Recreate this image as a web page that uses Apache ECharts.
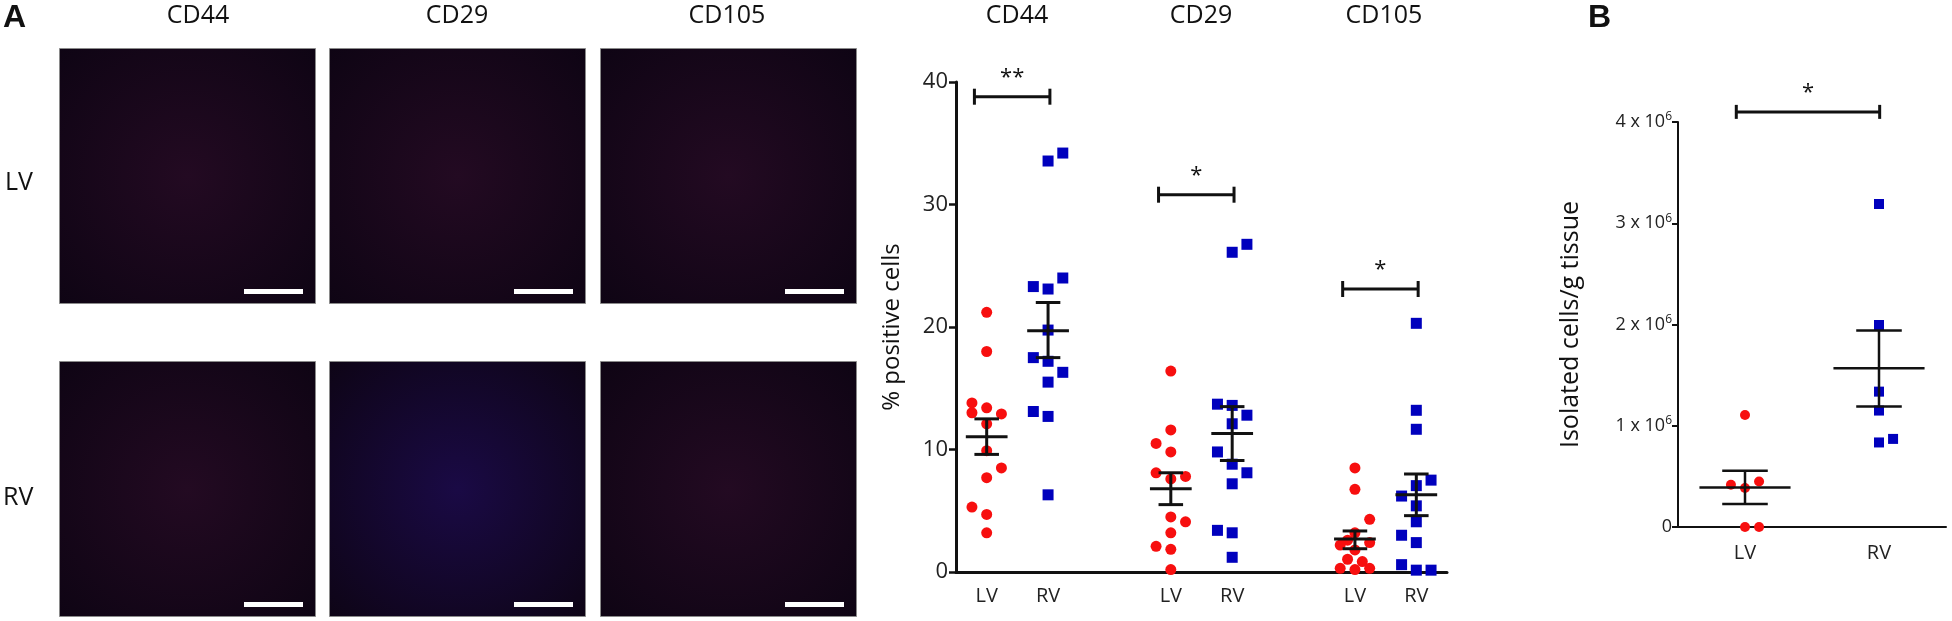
<!DOCTYPE html>
<html>
<head>
<meta charset="utf-8">
<script src="https://cdn.jsdelivr.net/npm/echarts@6/dist/echarts.min.js"></script>
<style>
html,body{margin:0;padding:0;background:#fff;}
#chart{width:1952px;height:621px;}
</style>
</head>
<body>
<div id="chart"></div>
<script>
// 数据
// 每个点: [横向偏移槽位, 数值]
var markers = ['CD44', 'CD29', 'CD105'];
var groupsA = ['LV', 'RV', '', 'LV', 'RV', '', 'LV', 'RV'];

var cd44LV = [[0,21.2],[0,18.0],[-1,13.8],[0,13.4],[-1,13.0],[1,12.9],[0,12.1],[0,9.9],[1,8.5],[0,7.7],[-1,5.3],[0,4.7],[0,3.2]];
var cd44RV = [[0,33.55],[1,34.2],[-1,23.3],[0,23.1],[1,24.0],[0,19.75],[-1,17.5],[0,17.2],[1,16.3],[0,15.5],[-1,13.1],[0,12.7],[0,6.3]];
var cd29LV = [[0,16.4],[0,11.6],[-1,10.5],[0,9.8],[-1,8.1],[1,7.8],[0,7.6],[0,4.5],[1,4.1],[0,3.2],[-1,2.1],[0,1.85],[0,0.2]];
var cd29RV = [[0,26.1],[1,26.75],[-1,13.7],[0,13.6],[1,12.8],[0,12.1],[-1,9.8],[0,8.8],[1,8.1],[0,7.2],[-1,3.4],[0,3.2],[0,1.2]];
var cd105LV = [[0,8.5],[0,6.75],[1,4.3],[0,3.2],[-0.5,2.6],[1,2.4],[-1,2.2],[0,1.8],[-0.5,1.04],[0.5,0.85],[-1,0.3],[0,0.2],[1,0.3]];
var cd105RV = [[0,20.3],[0,13.2],[0,11.65],[1,7.5],[0,7.05],[-1,6.2],[0,5.4],[0,4.1],[-1,3.0],[0,2.4],[-1,0.6],[0,0.15],[1,0.15]];

// 均值 ± SEM (CD44 LV, CD44 RV, CD29 LV, CD29 RV, CD105 LV, CD105 RV)
var meanA = [11.05, 19.7, 6.8, 11.3, 2.7, 6.3];
var semLowA = [9.6, 17.5, 5.5, 9.1, 1.9, 4.6];
var semHighA = [12.5, 22.0, 8.1, 13.5, 3.35, 8.0];
var sigA = ['**', '*', '*'];
var sigYA = [38.8, 30.8, 23.1];
var yTicksA = [0, 10, 20, 30, 40];

// B: 细胞数 (x 10^6 / g)
var groupsB = ['LV', 'RV'];
var cellsLV = [[0,1.107],[-1,0.417],[0,0.385],[1,0.45],[0,0],[1,0]];
var cellsRV = [[0,3.19],[0,1.995],[0,1.337],[0,1.15],[0,0.835],[1,0.87]];
var meanB = [0.39, 1.568];
var semLowB = [0.227, 1.19];
var semHighB = [0.555, 1.94];
var sigB = ['*'];
var sigYB = [4.1];
var yTicksB = [0, 1, 2, 3, 4];

var RED = '#f70f0f', BLUE = '#0000bd', INK = '#111';
var FONT = '"Open Sans", "Noto Sans", sans-serif';

// 散点: 类别位置 + 槽位偏移
function place(arr, pos, step, scale) {
    return arr.map(function (p) { return [pos + p[0] * step, p[1] * (scale || 1)]; });
}

function meanSem(mean, lo, hi, positions, scale) {
    return mean.map(function (m, i) { return [positions[i], m * scale, lo[i] * scale, hi[i] * scale]; });
}

function semRenderer(meanHalf, capHalf, lw) {
    return function (params, api) {
        var x = api.value(0);
        var pm = api.coord([x, api.value(1)]);
        var plo = api.coord([x, api.value(2)]);
        var phi = api.coord([x, api.value(3)]);
        var h = api.size([meanHalf, 0])[0];
        var c = api.size([capHalf, 0])[0];
        var st = { stroke: INK, lineWidth: lw };
        return {
            type: 'group',
            children: [
                { type: 'line', shape: { x1: pm[0] - h, y1: pm[1], x2: pm[0] + h, y2: pm[1] }, style: st },
                { type: 'line', shape: { x1: plo[0], y1: plo[1], x2: phi[0], y2: phi[1] }, style: st },
                { type: 'line', shape: { x1: plo[0] - c, y1: plo[1], x2: plo[0] + c, y2: plo[1] }, style: st },
                { type: 'line', shape: { x1: phi[0] - c, y1: phi[1], x2: phi[0] + c, y2: phi[1] }, style: st }
            ]
        };
    };
}

function bracketRenderer(labels, capLen, lw) {
    return function (params, api) {
        var y = api.value(2);
        var p1 = api.coord([api.value(0), y]);
        var p2 = api.coord([api.value(1), y]);
        var st = { stroke: INK, lineWidth: lw };
        return {
            type: 'group',
            children: [
                { type: 'line', shape: { x1: p1[0], y1: p1[1], x2: p2[0], y2: p2[1] }, style: st },
                { type: 'line', shape: { x1: p1[0], y1: p1[1] - capLen, x2: p1[0], y2: p1[1] + capLen }, style: st },
                { type: 'line', shape: { x1: p2[0], y1: p2[1] - capLen, x2: p2[0], y2: p2[1] + capLen }, style: st },
                {
                    type: 'text',
                    style: {
                        text: labels[params.dataIndex], x: (p1[0] + p2[0]) / 2, y: p1[1] - 8,
                        fill: INK, font: '22px ' + FONT, textAlign: 'center', textVerticalAlign: 'bottom'
                    }
                }
            ]
        };
    };
}

// 免疫荧光图片位置 (用暗色块代替)
var imgCols = [59, 329, 600];
var imgRows = [48, 361];
var imgW = 256, imgH = 255;
var imgGraphics = [];
imgRows.forEach(function (top, r) {
    imgCols.forEach(function (left, c) {
        imgGraphics.push({
            type: 'rect', left: left, top: top,
            shape: { width: imgW, height: imgH },
            style: {
                fill: new echarts.graphic.RadialGradient(0.5, 0.5, 0.75, [
                    { offset: 0, color: r === 1 && c === 1 ? '#1a0a45' : '#230a22' },
                    { offset: 1, color: '#0d0413' }
                ]),
                stroke: '#8a8a8a', lineWidth: 1
            }
        });
        imgGraphics.push({
            type: 'rect', left: left + imgW - 71, top: top + imgH - 14,
            shape: { width: 59, height: 5 }, style: { fill: '#fff' }
        });
    });
});

var textGraphics = [
    { type: 'text', left: 3, top: 2, style: { text: 'A', font: 'bold 32px "Liberation Sans", Arial, sans-serif', fill: INK } },
    { type: 'text', left: 1588, top: 2, style: { text: 'B', font: 'bold 32px "Liberation Sans", Arial, sans-serif', fill: INK } },
    { type: 'text', left: 5, top: 170, style: { text: 'LV', font: '25px ' + FONT, fill: INK } },
    { type: 'text', left: 3, top: 485, style: { text: 'RV', font: '25px ' + FONT, fill: INK } }
];
var titleXImg = [198, 457, 727];
var titleXPlot = [1017, 1201, 1384];
markers.forEach(function (m, i) {
    textGraphics.push({ type: 'text', x: titleXImg[i], y: 3, style: { text: m, font: '25px ' + FONT, fill: INK, textAlign: 'center' } });
    textGraphics.push({ type: 'text', x: titleXPlot[i], y: 3, style: { text: m, font: '25px ' + FONT, fill: INK, textAlign: 'center' } });
});

var posA = [0, 1, 3, 4, 6, 7];
var stepA = 0.24;
var stepB = 0.105;
var E6 = 1e6;

var axisLineA = { show: true, onZero: false, lineStyle: { color: INK, width: 3 } };
var axisLineB = { show: true, onZero: false, lineStyle: { color: INK, width: 2 } };

function dots(xi, yi, sym, size, color, data) {
    return { type: 'scatter', xAxisIndex: xi, yAxisIndex: yi, symbol: sym, symbolSize: size, itemStyle: { color: color, opacity: 1 }, data: data };
}

var option = {
    backgroundColor: '#fff',
    animation: false,
    graphic: imgGraphics.concat(textGraphics),
    grid: [
        { left: 956, top: 82, width: 491, height: 490 },
        { left: 1678, top: 122, width: 268, height: 405 }
    ],
    xAxis: [
        {
            type: 'category', gridIndex: 0, data: groupsA, boundaryGap: true,
            axisLine: axisLineA,
            axisTick: { alignWithLabel: true, interval: 0, length: 8, lineStyle: { color: INK, width: 2.5 } },
            axisLabel: { interval: 0, margin: 14, color: '#222', fontSize: 20, fontFamily: FONT }
        },
        { type: 'value', gridIndex: 0, min: -0.5, max: 7.5, show: false },
        {
            type: 'category', gridIndex: 1, data: groupsB, boundaryGap: true,
            axisLine: axisLineB,
            axisTick: { alignWithLabel: true, interval: 0, length: 7, lineStyle: { color: INK, width: 2 } },
            axisLabel: { interval: 0, margin: 16, color: '#222', fontSize: 20, fontFamily: FONT }
        },
        { type: 'value', gridIndex: 1, min: -0.5, max: 1.5, show: false }
    ],
    yAxis: [
        {
            type: 'value', gridIndex: 0, min: yTicksA[0], max: yTicksA[yTicksA.length - 1], interval: 10,
            name: '% positive cells', nameLocation: 'middle', nameGap: 52, nameRotate: 90,
            nameTextStyle: { fontSize: 24, color: '#111', fontFamily: FONT },
            axisLine: axisLineA,
            axisTick: { show: true, length: 7, lineStyle: { color: INK, width: 2.5 } },
            splitLine: { show: false },
            axisLabel: { margin: 8, color: '#222', fontSize: 22, fontFamily: FONT }
        },
        {
            type: 'value', gridIndex: 1, min: yTicksB[0] * E6, max: yTicksB[yTicksB.length - 1] * E6, interval: E6,
            name: 'Isolated cells/g tissue', nameLocation: 'middle', nameGap: 95, nameRotate: 90,
            nameTextStyle: { fontSize: 25, color: '#111', fontFamily: FONT },
            axisLine: axisLineB,
            axisTick: { show: true, length: 6, lineStyle: { color: INK, width: 2 } },
            splitLine: { show: false },
            axisLabel: {
                margin: 6, color: '#222', fontFamily: FONT,
                formatter: function (v) {
                    if (v === 0) return '{n|0}';
                    return '{n|' + (v / E6) + ' x 10}{s|6}';
                },
                rich: {
                    n: { fontSize: 18, fontFamily: FONT, color: '#222' },
                    s: { fontSize: 12, fontFamily: FONT, color: '#222', verticalAlign: 'top', padding: [0, 0, 10, 0] }
                }
            }
        }
    ],
    series: [
        // A: 散点
        dots(1, 0, 'circle', 11, RED, place(cd44LV, 0, stepA)),
        dots(1, 0, 'rect', 11, BLUE, place(cd44RV, 1, stepA)),
        dots(1, 0, 'circle', 11, RED, place(cd29LV, 3, stepA)),
        dots(1, 0, 'rect', 11, BLUE, place(cd29RV, 4, stepA)),
        dots(1, 0, 'circle', 11, RED, place(cd105LV, 6, stepA)),
        dots(1, 0, 'rect', 11, BLUE, place(cd105RV, 7, stepA)),
        // A: 均值 ± SEM
        {
            type: 'custom', xAxisIndex: 1, yAxisIndex: 0, z: 5,
            renderItem: semRenderer(0.34, 0.2, 3),
            encode: { x: 0, y: [1, 2, 3] },
            data: meanSem(meanA, semLowA, semHighA, posA, 1)
        },
        // A: 显著性标记
        {
            type: 'custom', xAxisIndex: 1, yAxisIndex: 0, z: 5,
            renderItem: bracketRenderer(sigA, 8, 3),
            encode: { x: [0, 1], y: 2 },
            data: sigYA.map(function (y, i) { return [posA[i * 2] - 0.2, posA[i * 2 + 1] + 0.03, y]; })
        },
        // B: 散点
        dots(3, 1, 'circle', 10, RED, place(cellsLV, 0, stepB, E6)),
        dots(3, 1, 'rect', 10, BLUE, place(cellsRV, 1, stepB, E6)),
        {
            type: 'custom', xAxisIndex: 3, yAxisIndex: 1, z: 5,
            renderItem: semRenderer(0.34, 0.17, 2.5),
            encode: { x: 0, y: [1, 2, 3] },
            data: meanSem(meanB, semLowB, semHighB, [0, 1], E6)
        },
        {
            type: 'custom', xAxisIndex: 3, yAxisIndex: 1, z: 5,
            renderItem: bracketRenderer(sigB, 7, 3),
            encode: { x: [0, 1], y: 2 },
            data: sigYB.map(function (y) { return [-0.065, 1.005, y * E6]; })
        }
    ]
};

var myChart = echarts.init(document.getElementById('chart'));
myChart.setOption(option);
</script>
</body>
</html>
